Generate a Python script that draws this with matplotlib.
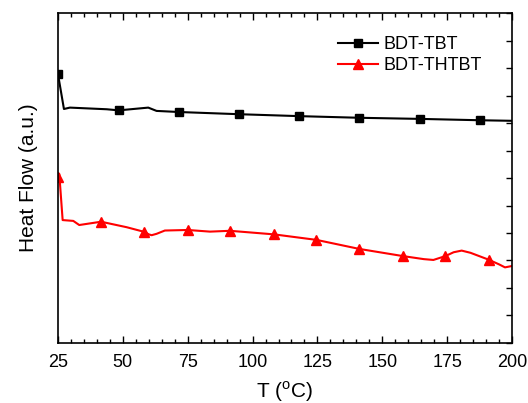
import numpy as np
import matplotlib
matplotlib.use("Agg")
import matplotlib.pyplot as plt
from matplotlib.ticker import MultipleLocator, NullFormatter

plt.rcParams['font.family'] = ['Liberation Sans', 'DejaVu Sans']
plt.rcParams['mathtext.fontset'] = 'custom'
plt.rcParams['mathtext.rm'] = 'Liberation Sans'

# ---------------- DSC traces (arbitrary units, offset) ----------------
t_tbt = [25.0, 27.3, 29.6, 43.8, 48.4, 59.8, 63.0, 71.6, 94.8, 118.0,
         141.2, 164.4, 187.8, 200.0]
hf_tbt = [9.78, 8.51, 8.56, 8.50, 8.46, 8.56, 8.44, 8.40, 8.32, 8.25,
          8.19, 8.15, 8.10, 8.08]
marks_tbt = [25.0, 48.4, 71.6, 94.8, 118.0, 141.2, 164.4, 187.8]

t_thtbt = [25.0, 25.5, 26.8, 30.9, 33.2, 41.6, 51.5, 58.3, 60.0, 61.1,
           63.0, 66.2, 75.0, 83.6, 91.3, 108.3, 124.6, 141.2, 158.0,
           166.0, 169.7, 174.3, 177.5, 180.6, 184.0, 191.0, 195.0,
           197.3, 200.0]
hf_thtbt = [6.05, 6.15, 4.47, 4.44, 4.29, 4.41, 4.21, 4.04, 3.95, 3.92,
            3.97, 4.09, 4.11, 4.05, 4.08, 3.95, 3.75, 3.42, 3.16,
            3.05, 3.02, 3.16, 3.30, 3.36, 3.28, 3.03, 2.86,
            2.75, 2.80]
marks_thtbt = [25.0, 41.6, 58.3, 75.0, 91.3, 108.3, 124.6, 141.2, 158.0,
               174.3, 191.0]

def mark_idx(t, marks):
    return [t.index(m) for m in marks]

fig = plt.figure(figsize=(5.28, 4.03), dpi=100)
ax = fig.add_axes([0.1098, 0.1489, 0.8599, 0.8188])

ax.plot(t_tbt, hf_tbt, color='black', lw=1.5, marker='s', ms=5.5,
        markevery=mark_idx(t_tbt, marks_tbt), label='BDT-TBT')
ax.plot(t_thtbt, hf_thtbt, color='red', lw=1.5, marker='^', ms=6.5,
        markevery=mark_idx(t_thtbt, marks_thtbt), label='BDT-THTBT')

ax.set_xlim(25, 200)
ax.set_ylim(0, 12)
ax.xaxis.set_major_locator(MultipleLocator(25))
ax.xaxis.set_minor_locator(MultipleLocator(5))
ax.yaxis.set_major_locator(MultipleLocator(1))
ax.yaxis.set_major_formatter(NullFormatter())
ax.tick_params(axis='x', which='both', direction='in', top=True,
               labelsize=13, pad=8)
ax.tick_params(axis='x', which='major', length=5, width=1)
ax.tick_params(axis='x', which='minor', length=3, width=1)
ax.tick_params(axis='y', which='both', direction='in', left=False,
               right=True, length=4, width=1)
for s in ax.spines.values():
    s.set_linewidth(1.2)

ax.set_xlabel(r'T ($^{\mathrm{o}}$C)', fontsize=15, labelpad=6)
ax.set_ylabel('Heat Flow (a.u.)', fontsize=15, labelpad=11)

ax.legend(loc='upper right', bbox_to_anchor=(0.969, 0.98), frameon=False,
          fontsize=13, handlelength=2.2, handletextpad=0.3,
          labelspacing=0.22)

plt.savefig("out.png", dpi=100)
